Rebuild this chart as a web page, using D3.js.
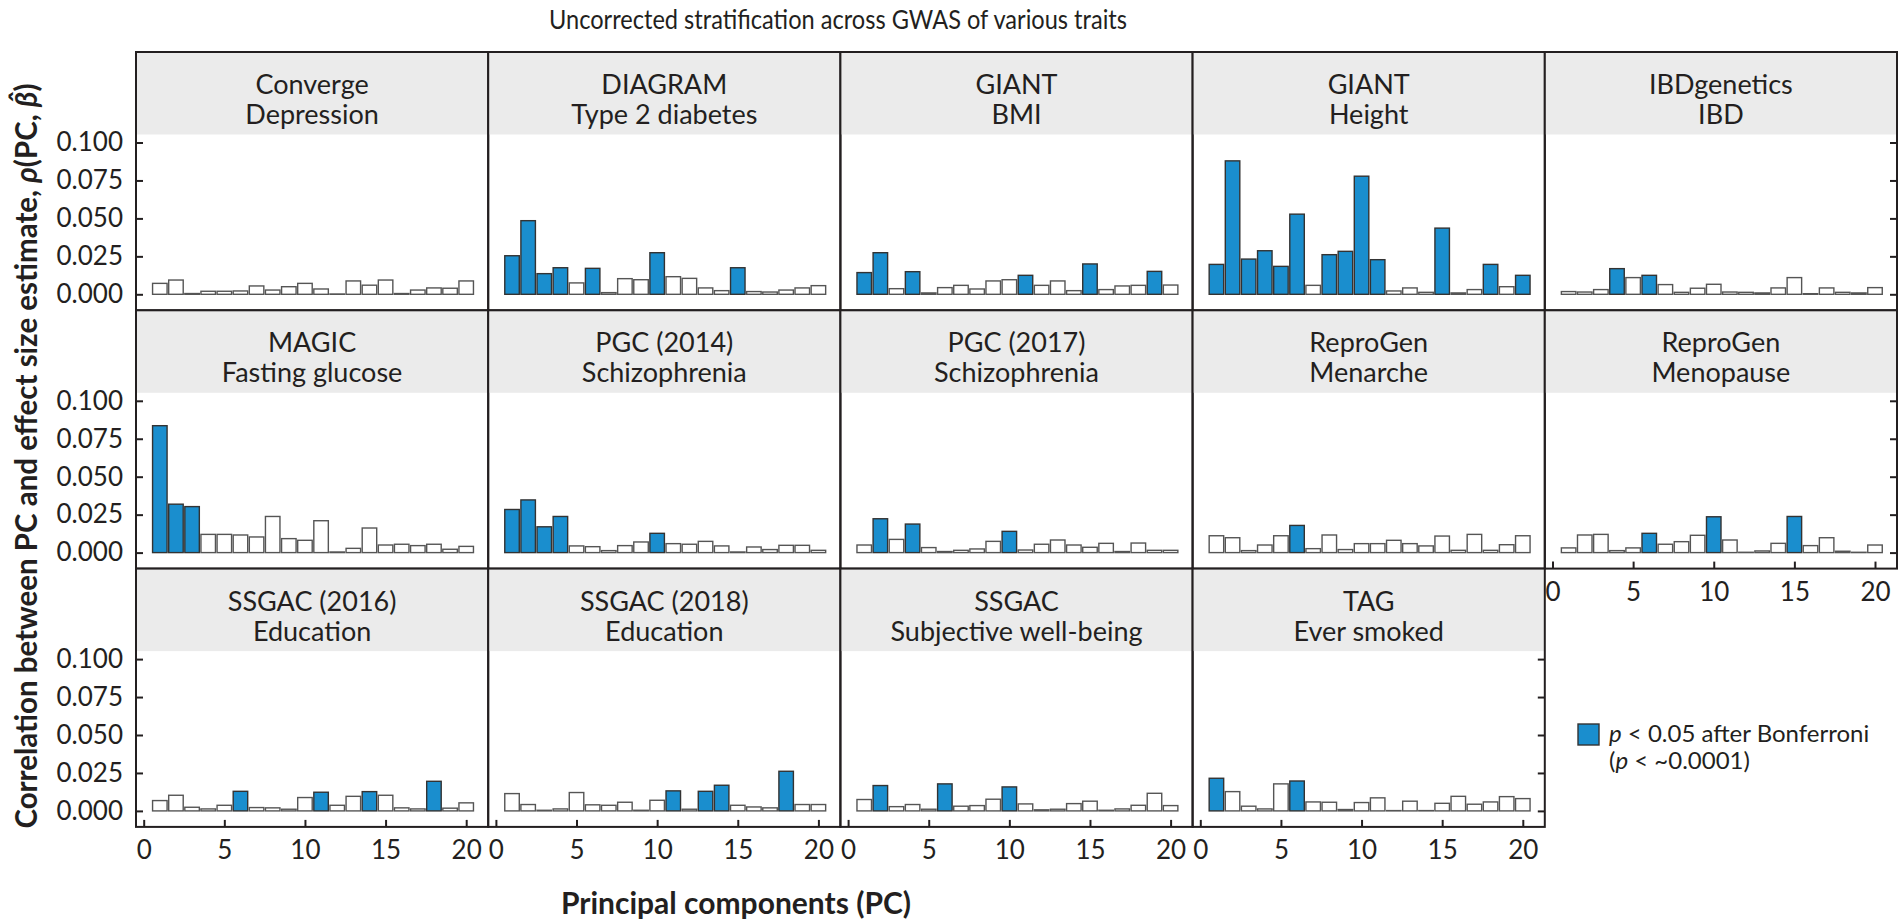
<!DOCTYPE html>
<html><head><meta charset="utf-8">
<script src="https://cdn.jsdelivr.net/npm/d3@7"></script>
<style>
body{margin:0;background:#fff}
svg{display:block}
text{font-family:Lato, "Open Sans", sans-serif; fill:#231f20}
</style>
</head><body>
<svg id="chart" width="1900" height="920"></svg>
<script>
// ---------- data ----------
const pcs = [1,2,3,4,5,6,7,8,9,10,11,12,13,14,15,16,17,18,19,20];
const studies = ["Converge","DIAGRAM","GIANT","GIANT","IBDgenetics","MAGIC","PGC (2014)","PGC (2017)","ReproGen","ReproGen","SSGAC (2016)","SSGAC (2018)","SSGAC","TAG"];
const traits = ["Depression","Type 2 diabetes","BMI","Height","IBD","Fasting glucose","Schizophrenia","Schizophrenia","Menarche","Menopause","Education","Education","Subjective well-being","Ever smoked"];
const yTicks = [0, 0.025, 0.05, 0.075, 0.1];
const xTicks = [0, 5, 10, 15, 20];

const rhoConverge   = [0.0072,0.0094,0.0005,0.0020,0.0020,0.0022,0.0055,0.0028,0.0050,0.0072,0.0035,0.0002,0.0088,0.0060,0.0094,0.0005,0.0028,0.0042,0.0040,0.0088];
const rhoDiagram    = [0.0254,0.0485,0.0136,0.0175,0.0075,0.0171,0.0011,0.0103,0.0096,0.0274,0.0116,0.0105,0.0042,0.0024,0.0175,0.0018,0.0015,0.0028,0.0042,0.0057];
const rhoGiantBmi   = [0.0143,0.0274,0.0037,0.0149,0.0009,0.0044,0.0059,0.0035,0.0088,0.0096,0.0125,0.0059,0.0088,0.0024,0.0200,0.0031,0.0055,0.0059,0.0151,0.0061];
const rhoGiantHt    = [0.0197,0.0879,0.0232,0.0287,0.0184,0.0528,0.0059,0.0261,0.0283,0.0778,0.0228,0.0022,0.0042,0.0013,0.0436,0.0009,0.0031,0.0197,0.0050,0.0125];
const rhoIbd        = [0.0018,0.0015,0.0031,0.0169,0.0110,0.0125,0.0064,0.0013,0.0040,0.0066,0.0015,0.0013,0.0009,0.0042,0.0110,0.0004,0.0042,0.0013,0.0009,0.0044];
const rhoMagic      = [0.0836,0.0319,0.0303,0.0120,0.0120,0.0116,0.0103,0.0238,0.0092,0.0081,0.0210,0.0004,0.0028,0.0162,0.0050,0.0055,0.0046,0.0055,0.0022,0.0041];
const rhoPgc2014    = [0.0284,0.0347,0.0170,0.0238,0.0044,0.0039,0.0013,0.0046,0.0070,0.0127,0.0059,0.0055,0.0074,0.0044,0.0004,0.0037,0.0020,0.0048,0.0048,0.0015];
const rhoPgc2017    = [0.0050,0.0223,0.0087,0.0188,0.0033,0.0007,0.0015,0.0024,0.0074,0.0140,0.0017,0.0055,0.0083,0.0050,0.0035,0.0061,0.0007,0.0063,0.0015,0.0015];
const rhoMenarche   = [0.0111,0.0098,0.0013,0.0050,0.0111,0.0179,0.0026,0.0116,0.0020,0.0059,0.0059,0.0081,0.0059,0.0044,0.0109,0.0015,0.0120,0.0015,0.0052,0.0111];
const rhoMenopause  = [0.0031,0.0116,0.0120,0.0013,0.0031,0.0127,0.0055,0.0072,0.0114,0.0236,0.0083,0.0002,0.0011,0.0061,0.0238,0.0046,0.0098,0.0009,0.0002,0.0050];
const rhoSsgac2016  = [0.0068,0.0103,0.0024,0.0013,0.0037,0.0129,0.0022,0.0020,0.0011,0.0088,0.0123,0.0037,0.0096,0.0127,0.0103,0.0020,0.0013,0.0195,0.0018,0.0053];
const rhoSsgac2018  = [0.0114,0.0042,0.0004,0.0013,0.0121,0.0040,0.0037,0.0057,0.0004,0.0070,0.0132,0.0011,0.0129,0.0169,0.0037,0.0026,0.0020,0.0261,0.0042,0.0042];
const rhoSwb        = [0.0075,0.0167,0.0028,0.0042,0.0011,0.0178,0.0031,0.0035,0.0077,0.0158,0.0046,0.0007,0.0011,0.0048,0.0064,0.0004,0.0013,0.0037,0.0116,0.0035];
const rhoSmoked     = [0.0215,0.0127,0.0031,0.0013,0.0178,0.0197,0.0059,0.0057,0.0009,0.0055,0.0086,0.0002,0.0064,0.0002,0.0050,0.0096,0.0044,0.0059,0.0094,0.0081];

// PCs significant at p < 0.05 after Bonferroni
const sigConverge  = [];
const sigDiagram   = [1,2,3,4,6,10,15];
const sigGiantBmi  = [1,2,4,11,15,19];
const sigGiantHt   = [1,2,3,4,5,6,8,9,10,11,15,18,20];
const sigIbd       = [4,6];
const sigMagic     = [1,2,3];
const sigPgc2014   = [1,2,3,4,10];
const sigPgc2017   = [2,4,10];
const sigMenarche  = [6];
const sigMenopause = [6,10,15];
const sigSsgac2016 = [6,11,14,18];
const sigSsgac2018 = [11,13,14,18];
const sigSwb       = [2,6,10];
const sigSmoked    = [1,6];

const allValues = [rhoConverge,rhoDiagram,rhoGiantBmi,rhoGiantHt,rhoIbd,rhoMagic,rhoPgc2014,rhoPgc2017,rhoMenarche,rhoMenopause,rhoSsgac2016,rhoSsgac2018,rhoSwb,rhoSmoked];
const allSig = [sigConverge,sigDiagram,sigGiantBmi,sigGiantHt,sigIbd,sigMagic,sigPgc2014,sigPgc2017,sigMenarche,sigMenopause,sigSsgac2016,sigSsgac2018,sigSwb,sigSmoked];
const panels = studies.map((s,i)=>({study:s, trait:traits[i], values:allValues[i], sig:allSig[i]}));

// ---------- layout ----------
const BLUE = "#1a8ece", INK = "#231f20";
const L = 136, T = 52, PW = 352.2, PH = 258.3, SH = 82.5, NC = 5;
const svg = d3.select("#chart");

const x = d3.scaleLinear().domain([0,20]).range([7.7, PW-22]);
const y = d3.scaleLinear().domain([0,0.1]).range([PH-16, SH+8]);
const bw = (x(1)-x(0))*0.9;

panels.forEach((p,i)=>{
  const r = Math.floor(i/NC), c = i%NC;
  const g = svg.append("g").attr("transform",`translate(${L+c*PW},${T+r*PH})`);
  g.append("rect").attr("width",PW).attr("height",SH).attr("fill","#ebebeb");
  const st = g.append("text").attr("x",PW/2).attr("text-anchor","middle").attr("font-size",27);
  st.append("tspan").attr("x",PW/2).attr("y",42).text(p.study);
  st.append("tspan").attr("x",PW/2).attr("y",72).text(p.trait);

  g.selectAll("rect.bar").data(p.values).join("rect").attr("class","bar")
    .attr("x",(d,j)=>x(pcs[j])-bw/2)
    .attr("y",d=>y(d))
    .attr("width",bw)
    .attr("height",d=>y(0)-y(d))
    .attr("fill",(d,j)=>p.sig.includes(pcs[j])?BLUE:"#fff")
    .attr("stroke",(d,j)=>p.sig.includes(pcs[j])?"#333":"#555")
    .attr("stroke-width",1.4);

  const last = (c===NC-1) || (i===panels.length-1);
  const bottom = (r===2) || (i + NC >= panels.length);
  if(c===0){
    const ax = g.append("g").call(d3.axisLeft(y).tickValues(yTicks).tickSizeInner(-7).tickSizeOuter(0).tickPadding(13).tickFormat(d3.format(".3f")));
    styleAxis(ax, 26);
  }
  if(last){
    const ax = g.append("g").attr("transform",`translate(${PW},0)`).call(d3.axisRight(y).tickValues(yTicks).tickSizeInner(-7).tickSizeOuter(0).tickFormat(""));
    styleAxis(ax, 26);
  }
  if(bottom){
    const ax = g.append("g").attr("transform",`translate(0,${PH})`).call(d3.axisBottom(x).tickValues(xTicks).tickSizeInner(-7).tickSizeOuter(0).tickPadding(14).tickFormat(d3.format("d")));
    styleAxis(ax, 26);
  }
  g.append("rect").attr("width",PW).attr("height",PH).attr("fill","none").attr("stroke",INK).attr("stroke-width",2);
});

function styleAxis(ax, fs){
  ax.select(".domain").remove();
  ax.selectAll(".tick line").attr("stroke",INK).attr("stroke-width",2);
  ax.selectAll(".tick text").attr("font-size",fs).attr("fill",INK).style("font-family","Lato, sans-serif");
}

// title
svg.append("text").attr("x",838).attr("y",29).attr("text-anchor","middle").attr("font-size",27.5).attr("font-weight",400)
  .attr("textLength",578).attr("lengthAdjust","spacingAndGlyphs")
  .text("Uncorrected stratification across GWAS of various traits");

// x title
svg.append("text").attr("x",736).attr("y",914).attr("text-anchor","middle").attr("font-size",30).attr("font-weight",700)
  .text("Principal components (PC)");

// y title
const yt = svg.append("text").attr("transform","translate(37,456) rotate(-90)").attr("text-anchor","middle").attr("font-size",29.5).attr("font-weight",700);
yt.append("tspan").text("Correlation between PC and effect size estimate, ");
yt.append("tspan").attr("font-style","italic").text("ρ");
yt.append("tspan").text("(PC, ");
yt.append("tspan").attr("font-style","italic").text("β\u0302");
yt.append("tspan").text(")");

// legend
const lg = svg.append("g").attr("transform","translate(1578,724)");
lg.append("rect").attr("width",21).attr("height",21).attr("fill",BLUE).attr("stroke","#333").attr("stroke-width",1.4);
const l1 = lg.append("text").attr("x",31).attr("y",18).attr("font-size",24);
l1.append("tspan").attr("font-style","italic").text("p");
l1.append("tspan").text(" < 0.05 after Bonferroni");
const l2 = lg.append("text").attr("x",31).attr("y",45).attr("font-size",24);
l2.append("tspan").text("(");
l2.append("tspan").attr("font-style","italic").text("p");
l2.append("tspan").text(" < ~0.0001)");
</script>
</body></html>
